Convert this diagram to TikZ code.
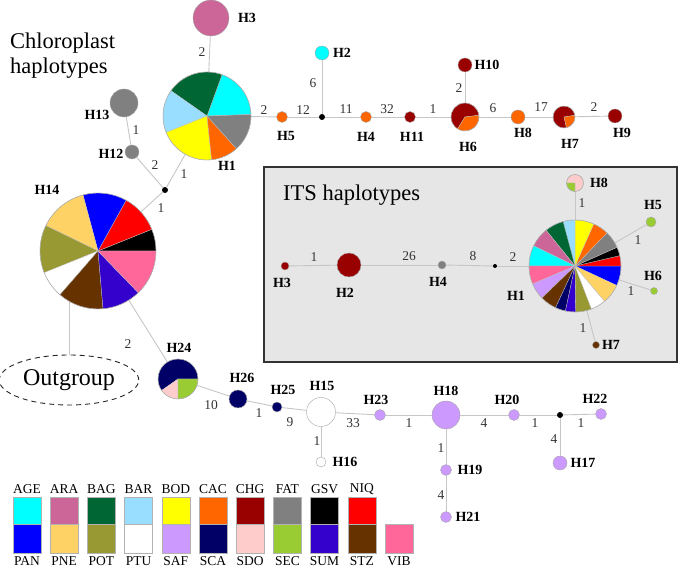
\documentclass[tikz,border=0pt]{standalone}
\usepackage{fontspec}
\setmainfont{Liberation Serif}
\usetikzlibrary{shapes.geometric}

% population colours
\definecolor{AGE}{HTML}{00FFFF}
\definecolor{ARA}{HTML}{CC6699}
\definecolor{BAG}{HTML}{006633}
\definecolor{BAR}{HTML}{99DDFF}
\definecolor{BOD}{HTML}{FFFF00}
\definecolor{CAC}{HTML}{FF6600}
\definecolor{CHG}{HTML}{990000}
\definecolor{FAT}{HTML}{808080}
\definecolor{GSV}{HTML}{000000}
\definecolor{NIQ}{HTML}{FF0000}
\definecolor{PAN}{HTML}{0000FF}
\definecolor{PNE}{HTML}{FFD266}
\definecolor{POT}{HTML}{999933}
\definecolor{PTU}{HTML}{FFFFFF}
\definecolor{SAF}{HTML}{CC99FF}
\definecolor{SCA}{HTML}{000066}
\definecolor{SDO}{HTML}{FFCCCC}
\definecolor{SEC}{HTML}{99CC33}
\definecolor{SUM}{HTML}{3300CC}
\definecolor{STZ}{HTML}{663300}
\definecolor{VIB}{HTML}{FF6699}
\definecolor{boxgray}{HTML}{E6E6E6}

\tikzset{
  hap/.style={circle, draw=gray!70, line width=0.4pt, inner sep=0pt},
  knot/.style={circle, fill=black, inner sep=0pt, minimum size=6pt},
  link/.style={draw=gray!45, line width=0.9pt},
  lab/.style={font=\bfseries\fontsize{14}{14}\selectfont, inner sep=0pt},
  num/.style={font=\fontsize{13.5}{14}\selectfont, text=black!80, inner sep=0pt},
  title/.style={font=\fontsize{22.5}{25}\selectfont, inner sep=0pt},
  swatch/.style={draw=gray!60, line width=0.4pt},
  rim/.style={draw=gray!70, line width=0.4pt},
  wedge/.style={draw=gray!50, line width=0.3pt}
}

% pie chart on a named node: node, radius, list of start/end/colour
\newcommand{\pie}[3]{%
  \foreach \pa/\pb/\pc in {#3}{%
    \filldraw[wedge, fill=\pc] (#1.center) -- ++(\pa:#2pt)
      arc[start angle=\pa, end angle=\pb, radius=#2pt] -- cycle;}%
  \draw[rim] (#1.center) circle[radius=#2pt];}

\begin{document}
\begin{tikzpicture}[x=1pt, y=1pt]
  \useasboundingbox (0,0) rectangle (680,569);

  % --- ITS box ---
  \draw[fill=boxgray, draw=black!80, line width=1.8pt] (264,207) rectangle (677,402);
  \node[title, anchor=west] (tits) at (283,374) {ITS haplotypes};
  \node[title, anchor=west, align=left] (tchl) at (10,513) {Chloroplast\\haplotypes};

  % --- simple haplotypes ---
  \foreach \n/\x/\y/\d/\c in {
      cH3/211/551/36/ARA, cH5/282/452/11/CAC, cH2/322/516/14/AGE,
      cH4/366/452/11/CAC, cH11/410/452/11/CHG, cH10/465/504/14/CHG,
      cH8/518/452/14/CAC, cH9/615/453/14/CHG, cH13/124/466/28/FAT,
      cH12/132/417/14/FAT, cH26/238/170/18/SCA, cH25/277/162/10/SCA,
      cH15/321/157/29/white, cH16/321/107/10/white, cH23/380/154/11/SAF,
      cH18/446/154/28/SAF, cH20/514/154/11/SAF, cH22/601/155/11/SAF,
      cH17/560/106/14/SAF, cH19/446/99/11/SAF, cH21/446/52/11/SAF,
      iH3/285/303/8/CHG, iH2/349/304/24/CHG, iH4/442/304/8/FAT,
      iH5/651/347/10/SEC, iH6/654/278/7/SEC, iH7/596/224/7/STZ}
    \node[hap, fill=\c, minimum size=\d pt] (\n) at (\x,\y) {};

  % --- pie haplotypes (drawn later) ---
  \foreach \n/\x/\y/\d in {cH1/207/453/88, cH6/465/452/28, cH7/564/452/22,
      cH14/98/318/116, cH24/178/190/40, iH1/575/303/92, iH8/575/386/17}
    \node[hap, draw=none, minimum size=\d pt] (\n) at (\x,\y) {};

  % median vectors
  \node[knot] (d1) at (322,452) {};
  \node[knot] (d2) at (165,379) {};
  \node[knot] (d3) at (560,154) {};
  \node[knot, minimum size=4pt] (d4) at (495,303) {};

  \node[draw=black!85, line width=0.9pt, dash pattern=on 5pt off 4pt, ellipse,
        minimum width=134pt, minimum height=50pt,
        font=\fontsize{24}{24}\selectfont] (outg) at (69,189) {Outgroup};

  % --- connectors ---
  \foreach \a/\b in {cH3/cH1, cH1/cH5, cH5/d1, cH2/d1, d1/cH4, cH4/cH11, cH11/cH6,
      cH10/cH6, cH6/cH8, cH8/cH7, cH7/cH9, cH13/cH12, cH12/d2, d2/cH1, d2/cH14,
      cH14/cH24, cH24/cH26, cH26/cH25, cH25/cH15, cH15/cH16, cH15/cH23,
      cH23/cH18, cH18/cH20, cH20/d3, d3/cH22, d3/cH17, cH18/cH19, cH19/cH21,
      iH3/iH2, iH2/iH4, iH4/d4, d4/iH1, iH1/iH8, iH1/iH5, iH1/iH6, iH1/iH7}
    \draw[link] (\a) -- (\b);
  \draw[link] (outg.north) -- (outg.north |- cH14.center);

  % --- pies ---
  \pie{cH1}{44}{2/70/AGE, 70/145/BAG, 145/202/BAR, 202/276/BOD, 276/312/CAC, 312/362/FAT}
  \pie{cH6}{14}{7/238/CHG, 238/367/CAC}
  \pie{cH7}{11}{9/283/CHG, 283/369/CAC}
  \pie{cH14}{58}{0/22/GSV, 22/61/NIQ, 61/105/PAN, 105/154/PNE, 154/202/POT,
      202/229/PTU, 229/275/STZ, 275/314/SUM, 314/360/VIB}
  \pie{cH24}{20}{0/215/SCA, 215/270/SDO, 270/360/SEC}
  \pie{iH1}{46}{-25/0/PAN, 0/13/NIQ, 13/24/GSV, 24/46/FAT, 46/66/CAC, 66/90/BOD,
      90/105/BAR, 105/129/BAG, 129/154/ARA, 154/180/AGE, 180/203/VIB,
      203/224/SAF, 224/245/STZ, 245/258/SCA, 258/271/SUM, 271/291/POT,
      291/310/PTU, 310/335/PNE}
  \pie{iH8}{8.5}{-90/180/SDO, 180/270/SEC}

  % --- haplotype names ---
  \foreach \x/\y/\t in {247/551/H3, 227/403/H1, 286/433/H5, 342/516/H2,
      366/432/H4, 412/432/H11, 468/422/H6, 487/504/H10, 523/436/H8,
      570/425/H7, 622/436/H9, 97/454/H13, 111/415/H12, 47/379/H14,
      179/221/H24, 242/191/H26, 283/179/H25, 322/183/H15, 345/107/H16,
      376/169/H23, 446/178/H18, 507/169/H20, 595/170/H22, 583/106/H17,
      470/99/H19, 468/52/H21}
    \node[lab] (t\t) at (\x,\y) {\t};
  \foreach \x/\y/\t in {282/286/H3, 345/276/H2, 438/287/H4, 516/273/H1,
      599/386/H8, 653/364/H5, 653/293/H6, 611/224/H7}
    \node[lab] (u\t) at (\x,\y) {\t};

  % --- mutation steps ---
  \foreach \x/\y/\t [count=\i] in {202/517/2, 264/459/2, 303/459/12, 313/486/6,
      346/460/11, 387/460/32, 433/460/1, 459/481/2, 493/461/6, 541/462/17,
      594/462/2, 136/439/1, 155/404/2, 184/395/1, 161/361/1, 128/225/2,
      211/164/10, 259/156/1, 290/147/9, 353/146/33, 317/128/1, 409/146/1,
      484/146/4, 535/146/1, 581/146/1, 554/130/4, 441/121/1, 441/74/4,
      314/312/1, 409/313/26, 473/313/8, 513/312/2, 582/366/1, 638/329/1,
      631/278/1, 583/241/1}
    \node[num] (m\i) at (\x,\y) {\t};

  % --- legend ---
  \foreach \t/\b [count=\i from 0] in {AGE/PAN, ARA/PNE, BAG/POT, BAR/PTU,
      BOD/SAF, CAC/SCA, CHG/SDO, FAT/SEC, GSV/SUM, NIQ/STZ} {
    \pgfmathsetmacro\lx{13+37.2*\i}
    \draw[swatch, fill=\t] (\lx,45) rectangle ++(28,27);
    \draw[swatch, fill=\b] (\lx,16) rectangle ++(28,29);
    \node[num, text=black] (k\t) at (\lx+14,80) {\t};
    \node[num, text=black] (k\b) at (\lx+14,8) {\b};
  }
  \draw[swatch, fill=VIB] (385,16) rectangle ++(28,29);
  \node[num, text=black] (kVIB) at (399,8) {VIB};
\end{tikzpicture}
\end{document}
